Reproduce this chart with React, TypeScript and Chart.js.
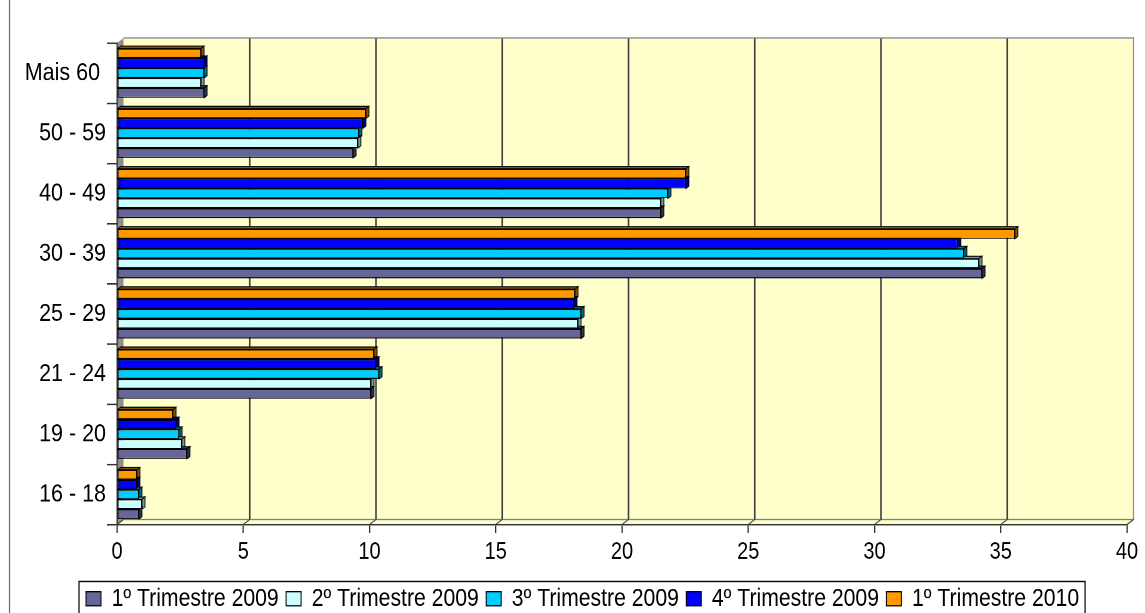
import React, { useEffect, useRef } from 'react';
import { Chart, registerables } from 'chart.js';

Chart.register(...registerables);

// ---- data (top to bottom) ----
const categories = ['Mais 60 ', '50 - 59', '40 - 49', '30 - 39', '25 - 29', '21 - 24', '19 - 20', '16 - 18'];
const t1_2010 = [3.33, 9.86, 22.53, 35.56, 18.14, 10.18, 2.22, 0.79];
const t4_2009 = [3.45, 9.74, 22.53, 33.3, 18.1, 10.26, 2.34, 0.79];
const t3_2009 = [3.45, 9.58, 21.82, 33.54, 18.38, 10.38, 2.46, 0.87];
const t2_2009 = [3.33, 9.54, 21.54, 34.14, 18.26, 10.06, 2.57, 0.99];
const t1_2009 = [3.45, 9.35, 21.54, 34.26, 18.38, 10.06, 2.77, 0.87];
const seriesNames = ['1º Trimestre 2010', '4º Trimestre 2009', '3º Trimestre 2009', '2º Trimestre 2009', '1º Trimestre 2009'];
const seriesValues = [t1_2010, t4_2009, t3_2009, t2_2009, t1_2009];
const xMin = 0;
const xMax = 40;
const xStep = 5;

// ---- styles ----
const fills = ['#FF9900', '#0000FF', '#00CCFF', '#CCFFFF', '#666699'];
const shades = ['#8a5200', '#000080', '#006b86', '#6f9c9c', '#33334d'];
const S = 1.18; // vertical stretch of the whole drawing
const CANVAS_H = 528;
const DX = 6.5;
const DY = -4.24;
const BX = 3;
const BY = -2;
const LEGEND_START = 86;

const wallPlugin = {
  id: 'wall3d',
  beforeDraw(chart: any) {
    const { ctx, chartArea: a } = chart;
    const x = chart.scales.x;
    ctx.save();
    // page border line at left
    ctx.strokeStyle = '#6b6b6b';
    ctx.lineWidth = 1.2;
    ctx.beginPath();
    ctx.moveTo(9.5, 0);
    ctx.lineTo(9.5, chart.height);
    ctx.stroke();
    // back wall
    ctx.fillStyle = '#FFFFCC';
    ctx.fillRect(a.left + DX, a.top + DY, a.right - a.left, a.bottom - a.top);
    // floor
    ctx.beginPath();
    ctx.moveTo(a.left, a.bottom);
    ctx.lineTo(a.left + DX, a.bottom + DY);
    ctx.lineTo(a.right + DX, a.bottom + DY);
    ctx.lineTo(a.right, a.bottom);
    ctx.closePath();
    ctx.fillStyle = '#FFFFCC';
    ctx.fill();
    ctx.strokeStyle = '#808080';
    ctx.lineWidth = 1;
    ctx.stroke();
    // left wall
    ctx.beginPath();
    ctx.moveTo(a.left, a.top);
    ctx.lineTo(a.left + DX, a.top + DY);
    ctx.lineTo(a.left + DX, a.bottom + DY);
    ctx.lineTo(a.left, a.bottom);
    ctx.closePath();
    ctx.fillStyle = '#8f8f8f';
    ctx.fill();
    // grid lines on back wall + floor diagonals
    x.ticks.forEach((t: any) => {
      const p = x.getPixelForValue(t.value);
      if (t.value !== xMin && t.value !== xMax) {
        ctx.strokeStyle = '#3f3f3f';
        ctx.lineWidth = 1.6;
        ctx.beginPath();
        ctx.moveTo(p + DX, a.top + DY);
        ctx.lineTo(p + DX, a.bottom + DY);
        ctx.stroke();
      }
      ctx.strokeStyle = '#3f3f3f';
      ctx.lineWidth = 1;
      ctx.beginPath();
      ctx.moveTo(p, a.bottom);
      ctx.lineTo(p + DX, a.bottom + DY);
      ctx.stroke();
    });
    // back wall border
    ctx.strokeStyle = '#8c8c8c';
    ctx.lineWidth = 1.2;
    ctx.beginPath();
    ctx.moveTo(a.left + DX, a.top + DY);
    ctx.lineTo(a.right + DX, a.top + DY);
    ctx.lineTo(a.right + DX, a.bottom + DY);
    ctx.stroke();
    ctx.restore();
  },
  beforeDatasetsDraw(chart: any) {
    const { ctx } = chart;
    ctx.save();
    chart.data.datasets.forEach((ds: any, i: number) => {
      const meta = chart.getDatasetMeta(i);
      meta.data.forEach((el: any) => {
        const { x, y, base, height } = el.getProps(['x', 'y', 'base', 'height'], true);
        const top = y - height / 2;
        const bot = y + height / 2;
        ctx.fillStyle = shades[i];
        ctx.strokeStyle = '#000';
        ctx.lineWidth = 0.8;
        // top face
        ctx.beginPath();
        ctx.moveTo(base, top);
        ctx.lineTo(base + BX, top + BY);
        ctx.lineTo(x + BX, top + BY);
        ctx.lineTo(x, top);
        ctx.closePath();
        ctx.fill();
        ctx.stroke();
        // right face
        ctx.beginPath();
        ctx.moveTo(x, top);
        ctx.lineTo(x + BX, top + BY);
        ctx.lineTo(x + BX, bot + BY);
        ctx.lineTo(x, bot);
        ctx.closePath();
        ctx.fill();
        ctx.stroke();
      });
    });
    ctx.restore();
  },
};

const legendPlugin = {
  id: 'legendFrame',
  afterLayout(chart: any) {
    const L = chart.legend;
    if (!L || !L.lineWidths) return;
    const pad = L.options.labels.padding;
    const start = (L.left + pad + L.right - L.lineWidths[0]) / 2;
    const shift = LEGEND_START - start;
    L.left += shift;
    L.right += shift;
  },
  afterDraw(chart: any) {
    const L = chart.legend;
    if (!L || !L.legendHitBoxes || !L.legendHitBoxes.length) return;
    const hb = L.legendHitBoxes;
    const x0 = Math.min(...hb.map((h: any) => h.left)) - 7;
    const x1 = Math.max(...hb.map((h: any) => h.left + h.width)) + 6;
    const { ctx } = chart;
    ctx.save();
    ctx.strokeStyle = '#000';
    ctx.lineWidth = 1.2;
    ctx.strokeRect(x0, L.top + 3.4, x1 - x0, chart.height);
    ctx.restore();
  },
};

export default function App() {
  const ref = useRef<HTMLCanvasElement>(null);
  useEffect(() => {
    Chart.defaults.font.family = "'Liberation Sans', Arial, sans-serif";
    Chart.defaults.color = '#000';
    const chart = new Chart(ref.current as HTMLCanvasElement, {
      type: 'bar',
      data: {
        labels: categories,
        datasets: seriesNames.map((name, i) => ({
          label: name,
          data: seriesValues[i],
          backgroundColor: fills[i],
          borderColor: '#000',
          borderWidth: 1,
          borderSkipped: false,
          categoryPercentage: 0.82,
          barPercentage: 1.0,
        })),
      },
      options: {
        indexAxis: 'y',
        animation: false,
        responsive: true,
        maintainAspectRatio: false,
        devicePixelRatio: 2,
        layout: { padding: { top: 36.44, right: 18, left: 0, bottom: 0 } },
        plugins: {
          tooltip: { enabled: false },
          legend: {
            position: 'bottom',
            labels: {
              boxWidth: 15,
              boxHeight: 11.9,
              padding: 7.4,
              color: '#000',
              font: { size: 21.2 },
              sort: (a: any, b: any) => b.datasetIndex - a.datasetIndex,
            },
          },
        },
        scales: {
          x: {
            type: 'linear',
            min: xMin,
            max: xMax,
            ticks: { stepSize: xStep, font: { size: 20 }, color: '#000', padding: 4.5 },
            grid: { drawOnChartArea: false, drawTicks: true, tickLength: 7, color: '#333', lineWidth: 1.3 },
            border: { display: true, color: '#333', width: 1.3 },
            afterFit: (scale: any) => { scale.height = 44.9; },
          },
          y: {
            type: 'category',
            ticks: { font: { size: 21.5 }, color: '#000', padding: 1 },
            grid: { drawOnChartArea: false, drawTicks: true, tickLength: 10, color: '#333', lineWidth: 1.3, offset: true },
            border: { display: true, color: '#333', width: 1.3 },
            afterFit: (scale: any) => { scale.width = 117; },
          },
        },
      },
      plugins: [wallPlugin, legendPlugin],
    } as any);
    return () => chart.destroy();
  }, []);
  return (
    <div style={{ position: 'fixed', left: 0, top: 0, width: 1145, height: 613, overflow: 'hidden', background: '#fff' }}>
      <div
        style={{
          position: 'absolute',
          left: 0,
          top: 0,
          width: 1145,
          height: CANVAS_H,
          transform: `scaleY(${S})`,
          transformOrigin: '0 0',
        }}
      >
        <canvas ref={ref} />
      </div>
    </div>
  );
}
